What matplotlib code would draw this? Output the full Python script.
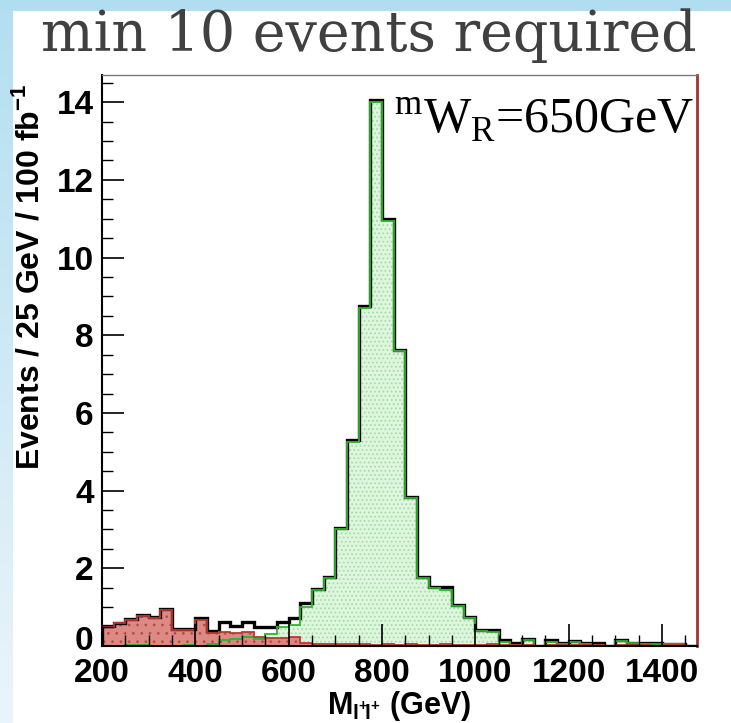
import numpy as np
import matplotlib
matplotlib.use('Agg')
import matplotlib.pyplot as plt
from matplotlib import font_manager
from matplotlib.ticker import MultipleLocator
from matplotlib.transforms import ScaledTranslation

# 25 GeV bins from 200 to 1475 GeV
bin_edges = np.arange(200, 1476, 25)

total = [0.52, 0.60, 0.69, 0.80, 0.74, 0.94, 0.45, 0.45, 0.71, 0.39,
         0.63, 0.52, 0.61, 0.50, 0.50, 0.61, 0.71, 1.10, 1.47, 1.78,
         3.05, 5.30, 8.75, 14.05, 11.00, 7.62, 3.84, 1.78, 1.53, 1.53,
         1.05, 0.75, 0.41, 0.41, 0.15, 0.09, 0.18, 0.00, 0.15, 0.09,
         0.13, 0.09, 0.09, 0.00, 0.15, 0.09, 0.08, 0.07, 0.06, 0.06, 0.00]

signal = [0.00, 0.01, 0.02, 0.03, 0.01, 0.00, 0.01, 0.03, 0.01, 0.05,
          0.15, 0.18, 0.22, 0.18, 0.30, 0.50, 0.55, 1.00, 1.45, 1.75,
          3.00, 5.25, 8.70, 14.00, 10.95, 7.60, 3.80, 1.75, 1.50, 1.45,
          1.02, 0.72, 0.38, 0.35, 0.10, 0.03, 0.15, 0.00, 0.10, 0.05,
          0.10, 0.05, 0.03, 0.00, 0.12, 0.07, 0.04, 0.04, 0.04, 0.04, 0.00]

background = [0.50, 0.58, 0.67, 0.76, 0.72, 0.92, 0.42, 0.42, 0.66, 0.33,
              0.36, 0.34, 0.35, 0.22, 0.20, 0.20, 0.22, 0.08, 0.04, 0.04,
              0.05, 0.05, 0.04, 0.03, 0.04, 0.03, 0.04, 0.03, 0.03, 0.04,
              0.03, 0.02, 0.03, 0.05, 0.03, 0.02, 0.03, 0.00, 0.03, 0.02,
              0.03, 0.02, 0.02, 0.00, 0.03, 0.02, 0.02, 0.01, 0.02, 0.02, 0.00]

x_ticks = [200, 400, 600, 800, 1000, 1200, 1400]
y_ticks = [0, 2, 4, 6, 8, 10, 12, 14]

W, H = 731, 723


def pick_sans():
    names = {f.name for f in font_manager.fontManager.ttflist}
    if 'Liberation Sans Narrow' in names:
        return 'Liberation Sans Narrow'
    return 'Liberation Sans'


def draw_background(fig):
    # slide background: blue band on top, fading band on the left
    top = fig.add_axes([0, 1 - 11 / H, 1, 11 / H])
    top.set_axis_off()
    top.add_patch(plt.Rectangle((0, 0), 1, 1, color='#b0def0'))
    left = fig.add_axes([0, 0, 13 / W, 1 - 11 / H])
    left.set_axis_off()
    grad = np.linspace(0, 1, 256).reshape(-1, 1)
    cmap = matplotlib.colors.LinearSegmentedColormap.from_list('bg', ['#b4dff0', '#eaf5fb'])
    left.imshow(grad, aspect='auto', cmap=cmap, extent=[0, 1, 0, 1])


def main():
    sans = pick_sans()
    plt.rcParams['mathtext.fontset'] = 'custom'
    plt.rcParams['mathtext.rm'] = 'Liberation Serif'
    plt.rcParams['mathtext.bf'] = sans + ':bold'
    plt.rcParams['hatch.linewidth'] = 0.8

    fig = plt.figure(figsize=(W / 100, H / 100), dpi=100)
    fig.patch.set_facecolor('white')
    draw_background(fig)

    ax = fig.add_axes([102 / W, 1 - 646 / H, 595 / W, 571 / H])

    # signal (green) and background (red) fills, then outlines
    ax.stairs(signal, bin_edges, fill=True, facecolor='#def6de', edgecolor='#a6dca6',
              hatch='....', linewidth=0)
    ax.stairs(background, bin_edges, fill=True, facecolor='#d97d76', edgecolor='#b84a45',
              hatch='..', linewidth=0, alpha=0.9)
    ax.stairs(total, bin_edges, color='black', linewidth=2.4)
    ax.stairs(signal, bin_edges, color='#2db52d', linewidth=1.3)
    ax.stairs(background, bin_edges, color='#b83a30', linewidth=1.3)

    ax.set_xlim(200, 1475)
    ax.set_ylim(0, 14.7)
    ax.set_xticks(x_ticks)
    ax.set_yticks(y_ticks)
    ax.xaxis.set_minor_locator(MultipleLocator(50))
    ax.yaxis.set_minor_locator(MultipleLocator(0.5))
    ax.tick_params(which='both', direction='in', top=False, right=False)
    ax.tick_params(which='major', length=16, width=1.2)
    ax.tick_params(which='minor', length=8, width=1.0)
    ax.tick_params(axis='x', pad=9)
    ax.tick_params(axis='y', pad=6)
    for lab in ax.get_xticklabels() + ax.get_yticklabels():
        lab.set_family(sans)
        lab.set_fontweight('bold')
        lab.set_fontsize(24)
    # the 0 label sits a little above its tick, like the reference
    zero = ax.get_yticklabels()[0]
    zero.set_transform(zero.get_transform() + ScaledTranslation(0, 8 / 100, fig.dpi_scale_trans))

    ax.spines['left'].set_linewidth(1.5)
    ax.spines['bottom'].set_linewidth(1.5)
    ax.spines['top'].set_color('#7a7a7a')
    ax.spines['top'].set_linewidth(1.0)
    ax.spines['right'].set_color('#9c3434')
    ax.spines['right'].set_linewidth(2.0)

    fig.text(30 / W, 1 - 84 / H, r'Events / 25 GeV / 100 fb$^{\mathbf{-1}}$',
             rotation=90, ha='center', va='top', fontsize=23, fontweight='bold',
             family=sans)
    fig.text(399 / W, 1 - 706 / H, r'M$_{\mathbf{l}^{\mathbf{+}}\!\mathbf{l}^{\mathbf{+}}}$ (GeV)',
             ha='center', va='center', fontsize=22, fontweight='bold', family=sans)

    fig.text(369 / W, 1 - 51 / H, 'min 10 events required', ha='center', va='baseline',
             fontsize=40, family='DejaVu Serif', color='#404040')
    ax.text(0.995, 0.897, r'$^{\rm m}$W$_{\rm R}$=650GeV', transform=ax.transAxes,
            ha='right', va='baseline', fontsize=36, family='Liberation Serif', color='black')

    fig.savefig('out.png', dpi=100, facecolor=fig.get_facecolor())


if __name__ == '__main__':
    main()
